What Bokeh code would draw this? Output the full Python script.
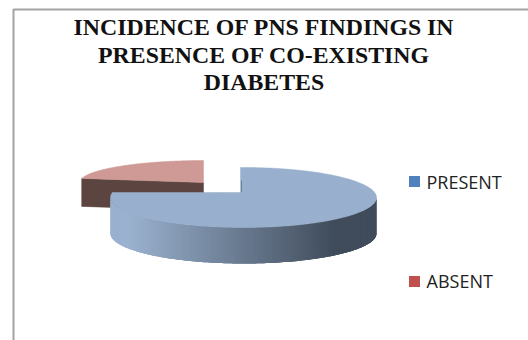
import numpy as np
from bokeh.core.properties import value
from bokeh.embed import file_html
from bokeh.models import Range1d
from bokeh.plotting import figure
from bokeh.resources import INLINE

categories = ["PRESENT", "ABSENT"]
shares = [78, 22]
legend_colors = ["#4F81BD", "#C0504D"]
title_lines = [
    "INCIDENCE OF PNS FINDINGS IN",
    "PRESENCE OF CO-EXISTING",
    "DIABETES",
]

W, H = 528, 340
p = figure(width=W, height=H, output_backend="svg", toolbar_location=None,
           x_range=Range1d(0, W), y_range=Range1d(H, 0), min_border=0,
           outline_line_color=None, background_fill_color="white",
           border_fill_color="white")
p.axis.visible = False
p.grid.visible = False


def arc(cx, cy, rx, ry, start_deg, end_deg, n=120):
    """Points on a squashed circle; angles run clockwise from twelve o'clock."""
    t = np.radians(np.linspace(start_deg, end_deg, n))
    return cx + rx * np.sin(t), cy - ry * np.cos(t)


def mix(a, b, f):
    ca = [int(a[i:i + 2], 16) for i in (1, 3, 5)]
    cb = [int(b[i:i + 2], 16) for i in (1, 3, 5)]
    return "#%02x%02x%02x" % tuple(round(x + (y - x) * f) for x, y in zip(ca, cb))


total = sum(shares)
present_sweep = 360 * shares[0] / total
absent_sweep = 360 * shares[1] / total

# Frame around the chart area
p.line([13, 13, W], [H, 9, 9], line_color="#a3a3a3", line_width=2)

# Exploded ABSENT slice, sitting behind the larger one
ax, ay = 203, 182
xa, ya = arc(ax, ay, 124, 22, -absent_sweep, 0)
wall_depth = 28
p.patch([xa[0], ax, ax, xa[0]], [ya[0], ay, ay + wall_depth, ya[0] + wall_depth],
        fill_color="#5C4441", line_color="#5C4441", line_width=0.5)
p.patch(list(xa) + [ax], list(ya) + [ay], fill_color="#CF9A95",
        line_color="#CF9A95", line_width=0.5)

# Rim of the PRESENT slice: strips painted right to left, each one overlapping
# the next so that no hairline seams show between them
cx, cy, rx, ry, depth = 243, 197, 133, 30, 36
start = -1.3
end = start + present_sweep
xr, yr = arc(cx, cy, rx, ry, 90, 269.5, 140)
for i in range(len(xr) - 1):
    f = np.clip((xr[i] - 130) / (335 - 130), 0, 1)
    c = mix("#9AB1CF", "#404C5B", f)
    j = min(i + 3, len(xr) - 1)
    p.patch(list(xr[i:j + 1]) + list(xr[i:j + 1][::-1]),
            list(yr[i:j + 1]) + list((yr[i:j + 1] + depth)[::-1]),
            fill_color=c, line_color=None)

# Top face of the PRESENT slice
bx, by = 240, 192
xp, yp = arc(cx, cy, rx, ry, start, end, 240)
p.patch(list(xp) + [bx], list(yp) + [by], fill_color="#98AFCD",
        line_color="#98AFCD", line_width=0.5)
p.line([bx + 1, bx + 1], [by - 12, by], line_color="#6F8196", line_width=1)

# Title
p.text(x=[263.5] * 3, y=[26, 54, 81], text=title_lines, text_align="center",
       text_baseline="middle", text_color="#111111", text_font=value("Liberation Serif"),
       text_font_style="bold", text_font_size="23.8px")

# Legend
legend_y = [181, 281]
p.rect(x=[414] * 2, y=legend_y, width=11, height=11, fill_color=legend_colors,
       line_color=None)
p.text(x=[426] * 2, y=[181, 280], text=categories, text_baseline="middle",
       text_color="#222222", text_font=value("Open Sans"), text_font_size="18px")

open("out.html", "w").write(file_html(p, INLINE))
